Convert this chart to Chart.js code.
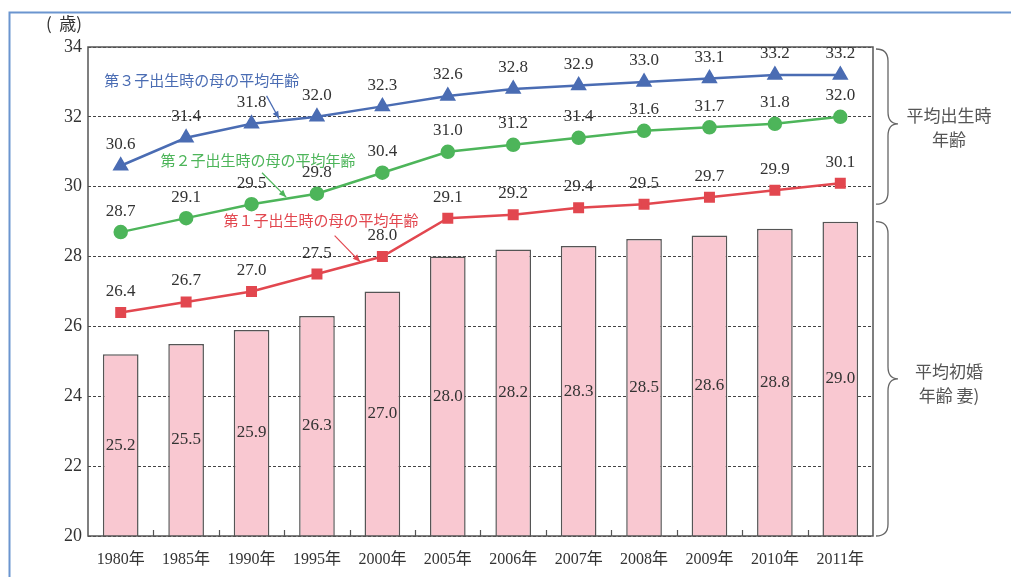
<!DOCTYPE html>
<html><head><meta charset="utf-8">
<script src="https://cdn.jsdelivr.net/npm/chart.js@4.4.1/dist/chart.umd.min.js"></script>
<style>html,body{margin:0;padding:0;background:#fff;}#wrap{width:1011px;height:577px;position:relative;}</style>
</head><body><div id="wrap"><canvas id="c" width="1011" height="577"></canvas></div>
<script>
const categories = ['1980年','1985年','1990年','1995年','2000年','2005年','2006年','2007年','2008年','2009年','2010年','2011年'];
const marriageAge = [25.2,25.5,25.9,26.3,27.0,28.0,28.2,28.3,28.5,28.6,28.8,29.0];
const firstChild = [26.4,26.7,27.0,27.5,28.0,29.1,29.2,29.4,29.5,29.7,29.9,30.1];
const secondChild = [28.7,29.1,29.5,29.8,30.4,31.0,31.2,31.4,31.6,31.7,31.8,32.0];
const thirdChild = [30.6,31.4,31.8,32.0,32.3,32.6,32.8,32.9,33.0,33.1,33.2,33.2];
const yTicks = [20,22,24,26,28,30,32,34];
const seriesNames = ['第３子出生時の母の平均年齢','第２子出生時の母の平均年齢','第１子出生時の母の平均年齢'];

const SERIF = '"Liberation Serif","Noto Sans CJK JP",serif';
const CJK = '"Noto Sans CJK JP",sans-serif';
const BLUE='#4a6cb3', GREEN='#4db55a', RED='#e2474f';

const deco = {
  id:'deco',
  afterDatasetsDraw(chart){
    const ctx=chart.ctx, a=chart.chartArea, xs=chart.scales.x, ys=chart.scales.y;
    ctx.save();
    // plot border
    ctx.strokeStyle='#555'; ctx.lineWidth=1.5;
    ctx.strokeRect(a.left,a.top,a.right-a.left,a.bottom-a.top);
    // bottom ticks at category boundaries
    const step=(xs.getPixelForValue(1)-xs.getPixelForValue(0));
    ctx.lineWidth=1.2;
    for(let i=1;i<categories.length;i++){
      const x=Math.round(xs.getPixelForValue(i)-step/2)+0.5;
      ctx.beginPath();ctx.moveTo(x,a.bottom);ctx.lineTo(x,a.bottom-6);ctx.stroke();
    }
    // value labels
    ctx.fillStyle='#333'; ctx.font='17px '+SERIF; ctx.textAlign='center'; ctx.textBaseline='middle';
    marriageAge.forEach((v,i)=>{
      ctx.fillText(v.toFixed(1),xs.getPixelForValue(i),ys.getPixelForValue((ys.min+v)/2));
    });
    [1,2,3].forEach(di=>{
      const m=chart.getDatasetMeta(di), d=chart.data.datasets[di].data;
      m.data.forEach((el,i)=>{ctx.fillText(d[i].toFixed(1),el.x,el.y-21);});
    });
    // series annotations with arrows (anchored in data space)
    const px=f=>xs.getPixelForValue(0)+f*step;
    const ann=[
      {t:seriesNames[0],c:BLUE,x:1.24,y:33.05,ax0:2.23,ay0:32.6,ax1:2.42,ay1:31.95},
      {t:seriesNames[1],c:GREEN,x:2.1,y:30.77,ax0:2.16,ay0:30.4,ax1:2.53,ay1:29.7},
      {t:seriesNames[2],c:RED,x:3.06,y:29.05,ax0:3.27,ay0:28.6,ax1:3.66,ay1:27.85}
    ];
    ann.forEach(o=>{
      ctx.fillStyle=o.c; ctx.font='15px '+CJK; ctx.textAlign='center';
      ctx.fillText(o.t,px(o.x),ys.getPixelForValue(o.y));
      const x0=px(o.ax0),y0=ys.getPixelForValue(o.ay0),x1=px(o.ax1),y1=ys.getPixelForValue(o.ay1);
      ctx.strokeStyle=o.c; ctx.lineWidth=1.2;
      ctx.beginPath();ctx.moveTo(x0,y0);ctx.lineTo(x1,y1);ctx.stroke();
      const ang=Math.atan2(y1-y0,x1-x0), L=8;
      ctx.beginPath();ctx.moveTo(x1,y1);
      ctx.lineTo(x1-L*Math.cos(ang-0.4),y1-L*Math.sin(ang-0.4));
      ctx.lineTo(x1-L*Math.cos(ang+0.4),y1-L*Math.sin(ang+0.4));
      ctx.closePath();ctx.fillStyle=o.c;ctx.fill();
    });
    // braces
    function brace(x,yt,yb,ym){
      const w=12;
      ctx.beginPath();
      ctx.moveTo(x,yt);
      ctx.quadraticCurveTo(x+w,yt,x+w,yt+12);
      ctx.lineTo(x+w,ym-12);
      ctx.quadraticCurveTo(x+w,ym,x+w+10,ym);
      ctx.quadraticCurveTo(x+w,ym,x+w,ym+12);
      ctx.lineTo(x+w,yb-12);
      ctx.quadraticCurveTo(x+w,yb,x,yb);
      ctx.stroke();
    }
    ctx.strokeStyle='#666'; ctx.lineWidth=1.3;
    brace(a.right+3,ys.getPixelForValue(34)+2,ys.getPixelForValue(29.5),ys.getPixelForValue(31.8));
    brace(a.right+3,ys.getPixelForValue(29),ys.getPixelForValue(20),ys.getPixelForValue(24.5));
    ctx.fillStyle='#555'; ctx.font='17px '+CJK; ctx.textAlign='center';
    ctx.fillText('平均出生時',949,ys.getPixelForValue(31.8)-8);
    ctx.fillText('年齢',949,ys.getPixelForValue(31.8)+16);
    ctx.fillText('平均初婚',949,ys.getPixelForValue(24.5)-7);
    ctx.fillText('年齢 妻)',949,ys.getPixelForValue(24.5)+17);
    // unit label
    ctx.fillStyle='#333'; ctx.font='17px '+CJK; ctx.textAlign='left';
    ctx.fillText('(  歳)',46,24);
    // outer frame
    ctx.strokeStyle='#6b95cf'; ctx.lineWidth=2;
    ctx.beginPath();ctx.moveTo(9.5,577);ctx.lineTo(9.5,12.5);ctx.lineTo(1011,12.5);ctx.stroke();
    ctx.restore();
  }
};

new Chart(document.getElementById('c'),{
  data:{
    labels:categories,
    datasets:[
      {type:'bar',label:'平均初婚年齢（妻）',data:marriageAge,backgroundColor:'#f9c8d1',borderColor:'#555',borderWidth:1.5,barPercentage:0.545,categoryPercentage:1,order:10},
      {type:'line',label:seriesNames[2],data:firstChild,borderColor:RED,backgroundColor:RED,borderWidth:2.5,pointStyle:'rect',pointRadius:6,pointHoverRadius:6,order:1},
      {type:'line',label:seriesNames[1],data:secondChild,borderColor:GREEN,backgroundColor:GREEN,borderWidth:2.5,pointStyle:'circle',pointRadius:6,pointHoverRadius:6,order:1},
      {type:'line',label:seriesNames[0],data:thirdChild,borderColor:BLUE,backgroundColor:BLUE,borderWidth:2.5,pointStyle:'triangle',pointRadius:7,pointHoverRadius:7,order:1}
    ]
  },
  options:{
    responsive:false,animation:false,
    layout:{padding:{left:0,right:138,top:47,bottom:0}},
    plugins:{legend:{display:false},tooltip:{enabled:false}},
    scales:{
      x:{offset:true,grid:{display:false},border:{display:false},
         ticks:{color:'#333',font:{family:SERIF,size:16},padding:6,maxRotation:0,autoSkip:false},
         afterFit(s){s.height=41;}},
      y:{min:20,max:34,afterBuildTicks(s){s.ticks=yTicks.map(v=>({value:v}));},
         grid:{color:'#444',lineWidth:1,drawTicks:false},
         border:{display:false,dash:[3,2]},
         ticks:{color:'#333',font:{family:SERIF,size:18},padding:6},
         afterFit(s){s.width=88;}}
    }
  },
  plugins:[deco]
});
</script></body></html>
